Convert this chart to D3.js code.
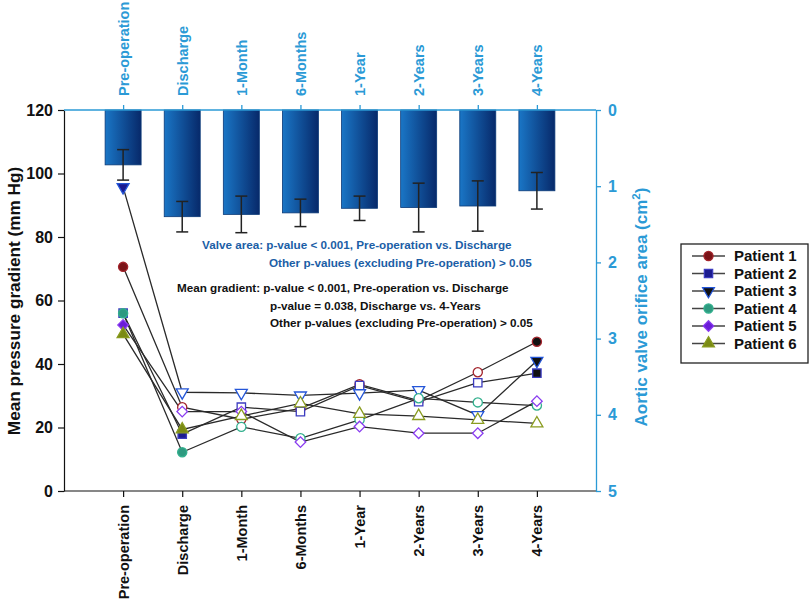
<!DOCTYPE html>
<html><head><meta charset="utf-8">
<script src="https://cdn.jsdelivr.net/npm/d3@7"></script>
<style>body{margin:0;background:#fff}svg{display:block}text{font-family:Arial,"Liberation Sans",sans-serif;font-weight:bold}</style>
</head><body><svg id="c" width="810" height="602"></svg>
<script>
const categories = ["Pre-operation","Discharge","1-Month","6-Months","1-Year","2-Years","3-Years","4-Years"];
const valveArea = [0.72, 1.40, 1.37, 1.35, 1.29, 1.28, 1.26, 1.06];
const valveAreaErr = [0.20, 0.20, 0.24, 0.18, 0.16, 0.32, 0.33, 0.24];
const patient1 = [70.6, 26.4, 22.6, 26.0, 33.6, 28.5, 37.4, 47.0];
const patient2 = [56.0, 17.9, 26.4, 25.0, 33.2, 28.1, 34.1, 37.1];
const patient3 = [95.7, 31.1, 30.9, 30.1, 30.8, 31.8, 23.9, 41.0];
const patient4 = [56.0, 12.2, 20.2, 16.6, 22.4, 29.2, 27.9, 26.9];
const patient5 = [52.3, 25.0, 25.0, 15.4, 20.3, 18.2, 18.2, 28.3];
const patient6 = [49.4, 19.4, 23.6, 27.6, 24.3, 23.6, 22.4, 21.3];
const seriesNames = ["Patient 1","Patient 2","Patient 3","Patient 4","Patient 5","Patient 6"];
const gradientTicks = [0,20,40,60,80,100,120];
const areaTicks = [0,1,2,3,4,5];
const notesBlue = ["Valve area: p-value < 0.001, Pre-operation vs. Discharge","Other p-values (excluding Pre-operation) > 0.05"];
const notesBlack = ["Mean gradient: p-value < 0.001, Pre-operation vs. Discharge","p-value = 0.038, Discharge vs. 4-Years","Other p-values (excluding Pre-operation) > 0.05"];

const seriesData = [patient1,patient2,patient3,patient4,patient5,patient6];
// styles
const styles = [
  {sym:d3.symbolCircle, size:66, rot:0, stroke:"#a3242c", fill:"#7a1418", filled:[0], dark:[7]},
  {sym:d3.symbolSquare, size:70, rot:0, stroke:"#3c3cc0", fill:"#1c1c90", filled:[0,1], dark:[7]},
  {sym:d3.symbolTriangle, size:62, rot:180, stroke:"#2456d8", fill:"#1a1a90", filled:[0], dark:[7]},
  {sym:d3.symbolCircle, size:66, rot:0, stroke:"#33b08e", fill:"#2e9a80", filled:[0,1], dark:[]},
  {sym:d3.symbolSquare, size:56, rot:45, stroke:"#8a3cf0", fill:"#6a1cd8", filled:[0], dark:[]},
  {sym:d3.symbolTriangle, size:62, rot:0, stroke:"#8a9c20", fill:"#7a8a14", filled:[0,1], dark:[]}
];
const axisBlue = "#2b9ad6", noteBlue = "#1b5ea6";

const svg = d3.select("#c");
const L = 64, R = 596, T = 110, B = 491;
const x = d3.scalePoint().domain(categories).range([L,R]).padding(1);
const yL = d3.scaleLinear().domain([0,120]).range([B,T]);
const yR = d3.scaleLinear().domain([0,5]).range([T,B]);

// gradient
const defs = svg.append("defs");
const g = defs.append("linearGradient").attr("id","bg").attr("x1","0").attr("x2","1").attr("y1","0").attr("y2","0");
g.append("stop").attr("offset","0%").attr("stop-color","#1a76c6");
g.append("stop").attr("offset","100%").attr("stop-color","#07296a");

// bars
const bw = 36;
svg.append("g").selectAll("rect").data(categories).join("rect")
  .attr("x",d=>x(d)-bw/2).attr("y",yR(0)).attr("width",bw)
  .attr("height",(d,i)=>yR(valveArea[i])-yR(0))
  .attr("fill","url(#bg)").attr("stroke","#0b3a78").attr("stroke-width",0.8);
// error bars
const eb = svg.append("g").attr("stroke","#222").attr("stroke-width",1.5);
categories.forEach((c,i)=>{
  const y1 = yR(valveArea[i]-valveAreaErr[i]), y2 = yR(valveArea[i]+valveAreaErr[i]);
  eb.append("line").attr("x1",x(c)).attr("x2",x(c)).attr("y1",y1).attr("y2",y2);
  eb.append("line").attr("x1",x(c)-6).attr("x2",x(c)+6).attr("y1",y1).attr("y2",y1);
  eb.append("line").attr("x1",x(c)-6).attr("x2",x(c)+6).attr("y1",y2).attr("y2",y2);
});

// axes
const leftAx = svg.append("g").attr("transform",`translate(${L},0)`)
  .call(d3.axisLeft(yL).tickValues(gradientTicks).tickSize(6).tickPadding(5).tickSizeOuter(0));
leftAx.selectAll("text").attr("font-size",16).attr("fill","#111");
leftAx.selectAll("line,path").attr("stroke","#111").attr("stroke-width",1.2);

const botAx = svg.append("g").attr("transform",`translate(0,${B})`)
  .call(d3.axisBottom(x).tickSize(6).tickSizeOuter(0));
botAx.select(".domain").attr("d",`M${L},0H${R}`);
botAx.selectAll("line,path").attr("stroke","#111").attr("stroke-width",1.2);
botAx.selectAll("text").attr("font-size",14.5).attr("fill","#111")
  .attr("transform","rotate(-90)").attr("text-anchor","end").attr("x",-14).attr("y",0).attr("dy","0.35em");

const topAx = svg.append("g").attr("transform",`translate(0,${T})`)
  .call(d3.axisTop(x).tickSize(5).tickSizeOuter(0));
topAx.select(".domain").attr("d",`M${L},0H${R}`);
topAx.selectAll("line,path").attr("stroke",axisBlue).attr("stroke-width",1.3);
topAx.selectAll("text").attr("font-size",14.5).attr("fill",axisBlue)
  .attr("transform","rotate(-90)").attr("text-anchor","start").attr("x",14).attr("y",0).attr("dy","0.35em");

const rightAx = svg.append("g").attr("transform",`translate(${R},0)`)
  .call(d3.axisRight(yR).tickValues(areaTicks).tickFormat(d3.format("d")).tickSize(5).tickPadding(7).tickSizeOuter(0));
rightAx.selectAll("line,path").attr("stroke",axisBlue).attr("stroke-width",1.3);
rightAx.selectAll("text").attr("font-size",16).attr("fill",axisBlue);

// axis titles
svg.append("text").attr("transform",`translate(20,301) rotate(-90)`).attr("text-anchor","middle")
  .attr("font-size",17.2).attr("fill","#111").text("Mean pressure gradient (mm Hg)");
const rt = svg.append("text").attr("transform",`translate(647,307) rotate(-90)`).attr("text-anchor","middle")
  .attr("font-size",17).attr("fill",axisBlue);
rt.append("tspan").text("Aortic valve orifice area (cm");
rt.append("tspan").attr("font-size",11.5).attr("dy",-7).text("2");
rt.append("tspan").attr("dy",7).text(")");

// lines
const line = d3.line().x((d,i)=>x(categories[i])).y(d=>yL(d));
svg.append("g").selectAll("path").data(seriesData).join("path")
  .attr("d",line).attr("fill","none").attr("stroke","#2a2a2a").attr("stroke-width",1.3);

// markers
seriesData.forEach((s,k)=>{
  const st = styles[k];
  const sym = d3.symbol().type(st.sym).size(st.size);
  svg.append("g").selectAll("path").data(s).join("path")
    .attr("d",sym)
    .attr("transform",(d,i)=>`translate(${x(categories[i])},${yL(d)}) rotate(${st.rot})`)
    .attr("fill",(d,i)=>st.dark.includes(i)?"#111":(st.filled.includes(i)?st.fill:"#fff"))
    .attr("stroke",st.stroke).attr("stroke-width",1.3);
});

// notes
const nf = 11.7;
svg.append("text").attr("x",202).attr("y",249).attr("font-size",nf).attr("fill",noteBlue).text(notesBlue[0]);
svg.append("text").attr("x",269).attr("y",267).attr("font-size",nf).attr("fill",noteBlue).text(notesBlue[1]);
svg.append("text").attr("x",177).attr("y",292).attr("font-size",nf).attr("fill","#111").text(notesBlack[0]);
svg.append("text").attr("x",270).attr("y",310).attr("font-size",nf).attr("fill","#111").text(notesBlack[1]);
svg.append("text").attr("x",270).attr("y",327).attr("font-size",nf).attr("fill","#111").text(notesBlack[2]);

// legend
const lg = svg.append("g");
lg.append("rect").attr("x",681).attr("y",244).attr("width",127).attr("height",119)
  .attr("fill","#fff").attr("stroke","#222").attr("stroke-width",1.3);
seriesNames.forEach((n,k)=>{
  const st = styles[k];
  const yy = 256 + k*17.5;
  lg.append("line").attr("x1",692).attr("x2",725).attr("y1",yy).attr("y2",yy).attr("stroke","#444").attr("stroke-width",1.3);
  lg.append("path").attr("d",d3.symbol().type(st.sym).size(st.size)())
    .attr("transform",`translate(708.5,${yy}) rotate(${st.rot})`)
    .attr("fill",k===2?"#111":st.fill).attr("stroke",st.stroke).attr("stroke-width",1.2);
  lg.append("text").attr("x",734).attr("y",yy).attr("dy","0.36em").attr("font-size",15).attr("fill","#111").text(n);
});
</script></body></html>
